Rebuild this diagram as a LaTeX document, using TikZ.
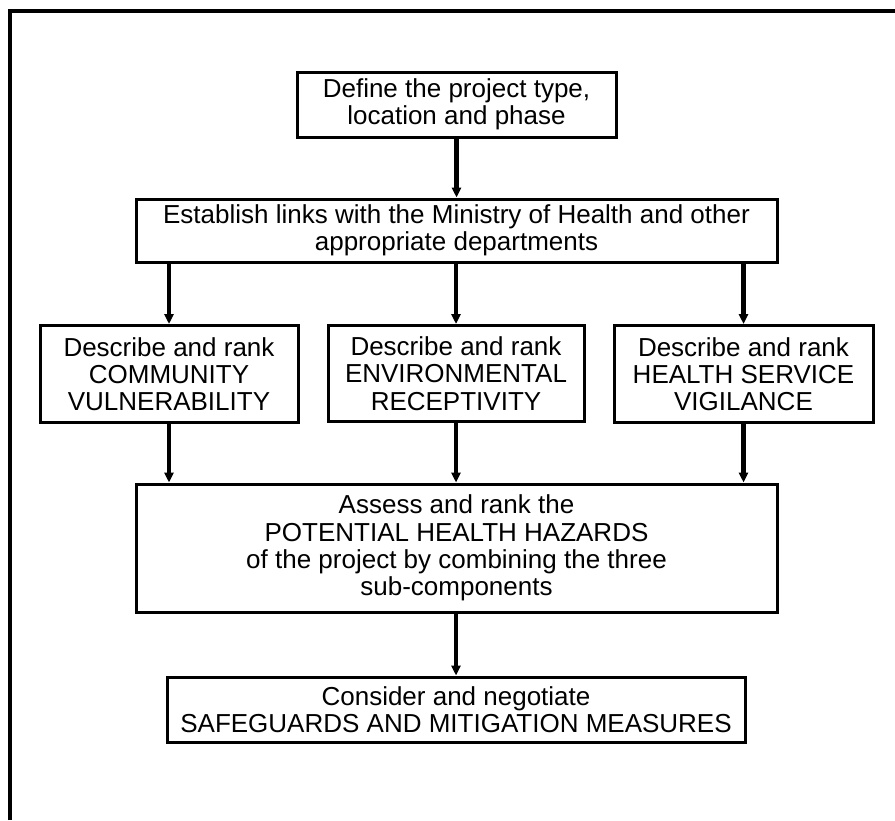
\documentclass[tikz,border=0pt]{standalone}
\usepackage{fontspec}
\setmainfont{Liberation Sans}
\usetikzlibrary{arrows.meta}

\begin{document}
\begin{tikzpicture}[x=0.5pt,y=-0.5pt,>={Triangle[length=5pt,width=4.5pt]},
  stage/.style={draw,line width=1.5pt,align=center,inner sep=0pt,font=\fontsize{13}{13.6}\selectfont},
  flow/.style={->,line width=2.2pt}]
\useasboundingbox (0,0) rectangle (895,820);
\draw[line width=2pt] (10,820) -- (10,11) -- (895,11);
\node[stage,minimum width=159.5pt,minimum height=32.5pt] (define) at (456.5,104.5) {Define the project type,\\location and phase};
\node[stage,minimum width=320.5pt,minimum height=31.5pt] (links) at (456.5,230.5) {Establish links with the Ministry of Health and other\\appropriate departments};
\node[stage,minimum width=129pt,minimum height=48.5pt] (vuln) at (169,374) {Describe and rank\\COMMUNITY\\VULNERABILITY};
\node[stage,minimum width=128pt,minimum height=48pt] (recep) at (456,373.5) {Describe and rank\\ENVIRONMENTAL\\RECEPTIVITY};
\node[stage,minimum width=129.5pt,minimum height=48.5pt] (vigil) at (743.5,374) {Describe and rank\\HEALTH SERVICE\\VIGILANCE};
\node[stage,minimum width=320.5pt,minimum height=64pt] (hazards) at (456.5,548) {Assess and rank the\\POTENTIAL HEALTH HAZARDS\\of the project by combining the three\\sub-components};
\node[stage,minimum width=289pt,minimum height=32.5pt] (safe) at (456,709.5) {Consider and negotiate\\SAFEGUARDS AND MITIGATION MEASURES};
\draw[flow] (define) -- (define |- links.north);
\foreach \n in {vuln,recep,vigil}{
  \draw[flow] (\n |- links.south) -- (\n.north);
  \draw[flow] (\n.south) -- (\n |- hazards.north);
}
\draw[flow] (hazards.south -| safe) -- (safe.north);
\end{tikzpicture}
\end{document}
